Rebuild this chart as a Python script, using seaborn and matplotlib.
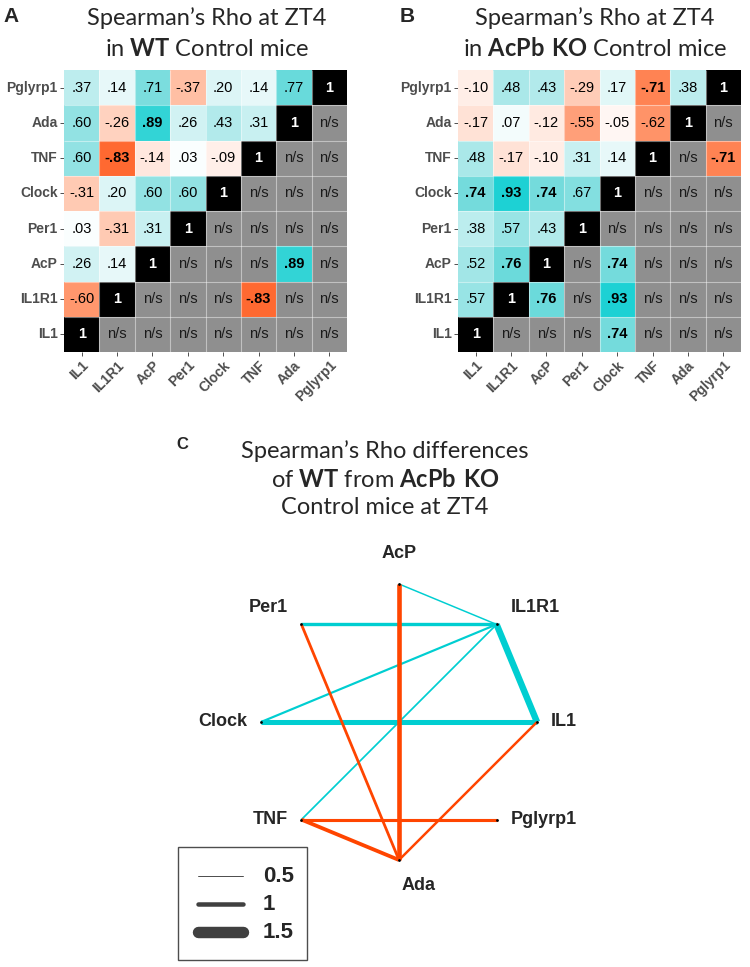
import numpy as np
import pandas as pd
import matplotlib
matplotlib.use("Agg")
import matplotlib.pyplot as plt
import seaborn as sns
from matplotlib.colors import LinearSegmentedColormap, ListedColormap
from matplotlib.patches import Rectangle

genes = ["IL1", "IL1R1", "AcP", "Per1", "Clock", "TNF", "Ada", "Pglyrp1"]

# rho of each gene against the genes listed before it
rho_wt = [[], [-.60], [.26, .14], [.03, -.31, .31], [-.31, .20, .60, .60],
          [.60, -.83, -.14, .03, -.09], [.60, -.26, .89, .26, .43, .31],
          [.37, .14, .71, -.37, .20, .14, .77]]
rho_ko = [[], [.57], [.52, .76], [.38, .57, .43], [.74, .93, .74, .67],
          [.48, -.17, -.10, .31, .14], [-.17, .07, -.12, -.55, -.05, -.62],
          [-.10, .48, .43, -.29, .17, -.71, .38]]
# significant pairs (shown again in the lower right half)
sig_wt = [("Ada", "AcP"), ("TNF", "IL1R1")]
sig_ko = [("Pglyrp1", "TNF"), ("Clock", "IL1"), ("Clock", "IL1R1"),
          ("Clock", "AcP"), ("AcP", "IL1R1")]
ring_order = ["AcP", "IL1R1", "IL1", "Pglyrp1", "Ada", "TNF", "Clock", "Per1"]
width_keys = [0.5, 1, 1.5]
min_diff = 0.6

W, H = 750, 967
ORANGE, CYAN, NS_GREY = "#FF4500", "#00CED1", "#8F8F8F"
SANS = "Liberation Sans"

sns.set_theme(style="white")
plt.rcParams["font.family"] = [SANS, "DejaVu Sans"]
plt.rcParams["mathtext.fontset"] = "custom"
plt.rcParams["mathtext.rm"] = "Lato"
plt.rcParams["mathtext.bf"] = "Lato:bold"

# roughly a Lab blend orangered -> white -> darkturquoise
rho_cmap = LinearSegmentedColormap.from_list(
    "rho", [(0, ORANGE), (0.125, "#FF7C4A"), (0.25, "#FFA985"), (0.5, "white"),
            (0.75, "#A7E7E8"), (0.875, "#72DBDC"), (1, CYAN)])


def full_matrix(tri):
    m = np.eye(len(genes))
    for i, row in enumerate(tri):
        for j, v in enumerate(row):
            m[i, j] = m[j, i] = v
    return m


def fmt(v):
    return f"{v:.2f}".replace("0.", ".")


def fx(x):
    return x / W


def fy(y):
    return 1 - y / H


def edge_width(d):
    # pixels -> points
    return 4.5 * abs(d) ** 2.3 * 0.72


fig = plt.figure(figsize=(W / 100, H / 100), dpi=100)


def corr_panel(left, tri, sig):
    n = len(genes)
    df = pd.DataFrame(full_matrix(tri), index=genes, columns=genes).iloc[::-1]
    rows = [genes.index(g) for g in df.index]
    ri = np.array(rows)[:, None]
    ci = np.arange(n)[None, :]
    mirror = np.zeros((n, n), bool)
    for a, b in sig:
        mirror[n - 1 - genes.index(b), genes.index(a)] = True
    shown = (ri > ci) | mirror
    diag = ri == ci

    ax = fig.add_axes([fx(left), fy(352), 283 / W, 282 / H])
    common = dict(cbar=False, linewidths=0, ax=ax,
                  xticklabels=genes, yticklabels=list(df.index))
    sns.heatmap(np.zeros((n, n)), cmap=ListedColormap([NS_GREY]), **common)
    sns.heatmap(df, mask=~shown, cmap=rho_cmap, vmin=-1, vmax=1, **common)
    sns.heatmap(df, mask=~diag, cmap=ListedColormap(["black"]), **common)
    ax.hlines(np.arange(1, n), 0, n, color="white", alpha=0.45, lw=0.8)
    ax.vlines(np.arange(1, n), 0, n, color="white", alpha=0.45, lw=0.8)

    for r in range(n):
        for c in range(n):
            gi = rows[r]
            v = df.iloc[r, c]
            if gi == c:
                txt, col, wt = "1", "white", "bold"
            elif gi > c:
                txt, col = fmt(v), "black"
                wt = "bold" if (genes[gi], genes[c]) in sig else "normal"
            elif mirror[r, c]:
                txt, col, wt = fmt(v), "black", "bold"
            else:
                txt, col, wt = "n/s", "#1A1A1A", "normal"
            ax.text(c + 0.5, r + 0.5, txt, ha="center", va="center",
                    fontsize=10.5, color=col, weight=wt, family=SANS)

    sns.despine(ax=ax, left=True, bottom=True)
    ax.tick_params(bottom=True, left=True, length=3, width=0.6, color="#333333",
                   labelsize=10, labelcolor="#4D4D4D", pad=1.5)
    plt.setp(ax.get_xticklabels(), rotation=45, ha="right", rotation_mode="anchor",
             weight="bold", family=SANS)
    plt.setp(ax.get_yticklabels(), rotation=0, weight="bold", family=SANS)
    ax.set_xlabel("")
    ax.set_ylabel("")
    return ax


corr_panel(64, rho_wt, sig_wt)
corr_panel(458, rho_ko, sig_ko)

# titles and panel letters
tkw = dict(family="Lato", fontsize=17, ha="center", va="baseline")
fig.text(fx(207), fy(25), "Spearman’s Rho at ZT4", **tkw)
fig.text(fx(207), fy(56), r"in $\mathbf{WT}$ Control mice", **tkw)
fig.text(fx(595), fy(25), "Spearman’s Rho at ZT4", **tkw)
fig.text(fx(595), fy(56), r"in $\mathbf{AcPb\ KO}$ Control mice", **tkw)
fig.text(fx(385), fy(458), "Spearman’s Rho differences", **tkw)
fig.text(fx(385), fy(487), r"of $\mathbf{WT}$ from $\mathbf{AcPb\ KO}$", **tkw)
fig.text(fx(385), fy(514), "Control mice at ZT4", **tkw)
lkw = dict(weight="bold", va="baseline", family=SANS)
fig.text(fx(3), fy(22), "A", fontsize=15, **lkw)
fig.text(fx(400), fy(22), "B", fontsize=15, **lkw)
fig.text(fx(176), fy(449), "C", fontsize=12, **lkw)

# network of rho differences (KO - WT)
ax_net = fig.add_axes([0, 0, 1, 1])
cx, cy, R = 399, 722, 138
n = len(genes)
diff = full_matrix(rho_ko) - full_matrix(rho_wt)
ang = {g: np.radians(90 - 45 * k) for k, g in enumerate(ring_order)}
pos = {g: (cx + R * np.cos(a), cy - R * np.sin(a)) for g, a in ang.items()}
edges = [(genes[i], genes[j], diff[i, j]) for i in range(n) for j in range(i)
         if abs(diff[i, j]) >= min_diff]
edges.sort(key=lambda e: -e[2])
for a, b, d in edges:
    ax_net.plot([pos[a][0], pos[b][0]], [pos[a][1], pos[b][1]],
                color=CYAN if d > 0 else ORANGE, lw=edge_width(d),
                solid_capstyle="butt", zorder=2)

nodes = pd.DataFrame({"x": [pos[g][0] for g in ring_order],
                      "y": [pos[g][1] for g in ring_order]})
sns.scatterplot(data=nodes, x="x", y="y", color="black", s=4, linewidth=0,
                ax=ax_net, zorder=5, legend=False)
for g, a in ang.items():
    c, s = np.cos(a), np.sin(a)
    if abs(c) > 0.1:
        ha, ox = ("left", 14) if c > 0 else ("right", -14)
        oy = -24 * s if s > 0.1 else 0
    else:
        ha, ox, oy = "center", (0 if s > 0 else 20), (-31 if s > 0 else 26)
    ax_net.text(pos[g][0] + ox, pos[g][1] + oy, g, ha=ha, va="center",
                fontsize=13, weight="bold", family=SANS)

# line width key
ax_net.add_patch(Rectangle((178, 847), 129, 113, fill=False, edgecolor="#4D4D4D", lw=1))
for k, s in enumerate(width_keys):
    yk = 876 + 28 * k
    ax_net.plot([198, 243], [yk, yk], color="#404040", lw=edge_width(s),
                solid_capstyle="round")
    ax_net.text(263, yk, f"{s:g}", fontsize=16, weight="bold", va="center",
                family=SANS)

ax_net.set_xlim(0, W)
ax_net.set_ylim(H, 0)
ax_net.axis("off")

fig.savefig("out.png", dpi=100)
